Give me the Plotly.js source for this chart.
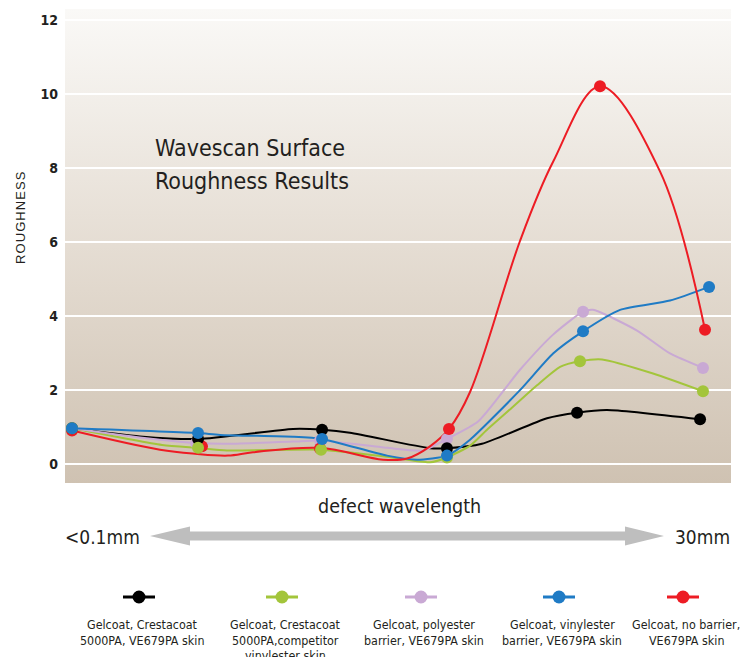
<!DOCTYPE html>
<html>
<head>
<meta charset="utf-8">
<script src="https://cdn.plot.ly/plotly-3.0.1.min.js"></script>
<style>
  html, body { margin: 0; padding: 0; background: #ffffff; }
  #chart { width: 745px; height: 657px; }
</style>
</head>
<body>
<div id="chart"></div>
<script>
// ---------------- DATA ----------------
// x is in "category units": 0 = <0.1mm ... 5 = 30mm
const yTickVals = [0, 2, 4, 6, 8, 10, 12];
const yTickText = ['0', '2', '4', '6', '8', '10', '12'];

const seriesNames = [
  'Gelcoat, Crestacoat\n5000PA, VE679PA skin',
  'Gelcoat, Crestacoat\n5000PA,competitor\nvinylester skin',
  'Gelcoat, polyester\nbarrier, VE679PA skin',
  'Gelcoat, vinylester\nbarrier, VE679PA skin',
  'Gelcoat, no barrier,\nVE679PA skin'
];
const seriesColors = ['#000000', '#a3c53b', '#c9a9d4', '#1f7bc5', '#ed1c24'];

// measured points (markers)
const blackMainX = [0, 0.994, 1.972, 2.957, 3.983, 4.953];
const blackMainY = [0.97, 0.68, 0.93, 0.43, 1.39, 1.21];
const greenMainX = [0, 0.994, 1.964, 2.957, 4.006, 4.976];
const greenMainY = [0.97, 0.44, 0.39, 0.18, 2.78, 1.97];
const lilacMainX = [0, 0.978, 1.956, 2.957, 4.030, 4.976];
const lilacMainY = [0.97, 0.57, 0.64, 0.68, 4.12, 2.60];
const blueMainX  = [0, 0.994, 1.972, 2.957, 4.030, 5.024];
const blueMainY  = [0.97, 0.84, 0.68, 0.23, 3.59, 4.79];
const redMainX   = [0, 1.025, 1.956, 2.973, 4.164, 4.992];
const redMainY   = [0.91, 0.48, 0.42, 0.95, 10.21, 3.63];

// traced curve points (lines)
const blackLineX = [0, 0.536, 0.994, 1.743, 1.972, 2.192, 2.823, 2.957, 3.233, 3.746, 3.983, 4.219, 4.953];
const blackLineY = [0.97, 0.75, 0.68, 0.95, 0.93, 0.85, 0.43, 0.43, 0.55, 1.24, 1.39, 1.46, 1.21];
const greenLineX = [0, 0.710, 0.994, 1.222, 1.964, 2.484, 2.823, 2.957, 3.139, 3.273, 3.478, 3.667, 3.849, 4.006, 4.180, 4.582, 4.976];
const greenLineY = [0.97, 0.52, 0.44, 0.37, 0.39, 0.20, 0.05, 0.18, 0.50, 0.93, 1.55, 2.13, 2.63, 2.78, 2.83, 2.45, 1.97];
const lilacLineX = [0, 0.536, 0.978, 1.214, 1.743, 1.956, 2.484, 2.768, 2.957, 3.202, 3.533, 3.794, 4.030, 4.109, 4.456, 4.716, 4.976];
const lilacLineY = [0.97, 0.72, 0.57, 0.55, 0.61, 0.64, 0.44, 0.37, 0.68, 1.15, 2.55, 3.50, 4.12, 4.17, 3.61, 2.99, 2.60];
const blueLineX  = [0, 0.994, 1.167, 1.743, 1.972, 2.484, 2.721, 2.957, 3.139, 3.533, 3.794, 4.030, 4.322, 4.716, 5.024];
const blueLineY  = [0.97, 0.84, 0.79, 0.74, 0.68, 0.23, 0.12, 0.23, 0.66, 2.00, 2.99, 3.59, 4.17, 4.42, 4.79];
const redLineX   = [0, 0.694, 0.970, 1.230, 1.427, 1.956, 2.453, 2.642, 2.823, 2.973, 3.139, 3.533, 3.794, 4.164, 4.637, 4.992];
const redLineY   = [0.91, 0.39, 0.28, 0.23, 0.32, 0.44, 0.12, 0.15, 0.48, 0.95, 1.95, 6.03, 8.17, 10.21, 7.91, 3.63];

// ---------------- LAYOUT GEOMETRY ----------------
const W = 745, H = 657;
const M = { l: 65, r: 14, t: 9, b: 174 };
const PW = W - M.l - M.r, PH = H - M.t - M.b;
const px = x => (x - M.l) / PW;           // pixel -> paper x
const py = y => (H - M.b - y) / PH;       // pixel -> paper y

const NARROW = '"Liberation Sans Narrow", "DejaVu Sans Condensed", "Arial Narrow", sans-serif';
const TXT = '#231f20';

const lineSets = [
  [blackLineX, blackLineY], [greenLineX, greenLineY], [lilacLineX, lilacLineY],
  [blueLineX, blueLineY], [redLineX, redLineY]
];
const mainSets = [
  [blackMainX, blackMainY], [greenMainX, greenMainY], [lilacMainX, lilacMainY],
  [blueMainX, blueMainY], [redMainX, redMainY]
];

const traces = [];
lineSets.forEach((s, i) => {
  traces.push({
    x: s[0], y: s[1], type: 'scatter', mode: 'lines',
    line: { color: seriesColors[i], width: 2, shape: 'spline', smoothing: i === 4 ? 1.0 : 0.6 },
    showlegend: false, hoverinfo: 'skip'
  });
});
// marker draw order (blue on top)
[2, 4, 0, 1, 3].forEach(i => {
  traces.push({
    x: mainSets[i][0], y: mainSets[i][1], type: 'scatter', mode: 'markers',
    marker: { color: seriesColors[i], size: 12, line: { width: 0 } },
    name: seriesNames[i], showlegend: false
  });
});

// background gradient image
const bgSvg = "<svg xmlns='http://www.w3.org/2000/svg' width='10' height='100' preserveAspectRatio='none'>" +
  "<defs><linearGradient id='g' x1='0' y1='0' x2='0' y2='1'>" +
  "<stop offset='0' stop-color='#faf9f7'/><stop offset='0.5' stop-color='#e5ddd3'/><stop offset='1' stop-color='#cfc2b2'/>" +
  "</linearGradient></defs><rect width='10' height='100' fill='url(#g)'/></svg>";
const bgSrc = 'data:image/svg+xml;base64,' + btoa(bgSvg);

// annotations
const annotations = [
  { text: 'Wavescan Surface', x: px(153), y: py(148), xref: 'paper', yref: 'paper',
    xanchor: 'left', yanchor: 'middle', showarrow: false, font: { family: NARROW, size: 23, color: TXT } },
  { text: 'Roughness Results', x: px(153), y: py(181), xref: 'paper', yref: 'paper',
    xanchor: 'left', yanchor: 'middle', showarrow: false, font: { family: NARROW, size: 23, color: TXT } },
  { text: 'R\u200AO\u200AU\u200AG\u200AH\u200AN\u200AE\u200AS\u200AS', x: px(20), y: py(218), xref: 'paper', yref: 'paper', textangle: -90,
    xanchor: 'center', yanchor: 'middle', showarrow: false, font: { family: 'Liberation Sans, Arial, sans-serif', size: 13, color: TXT } },
  { text: 'defect wavelength', x: px(399), y: py(506), xref: 'paper', yref: 'paper',
    xanchor: 'center', yanchor: 'middle', showarrow: false, font: { family: NARROW, size: 19.5, color: TXT } },
  { text: '&lt;0.1mm', x: px(63), y: py(537), xref: 'paper', yref: 'paper',
    xanchor: 'left', yanchor: 'middle', showarrow: false, font: { family: NARROW, size: 19, color: TXT } },
  { text: '30mm', x: px(732), y: py(537), xref: 'paper', yref: 'paper',
    xanchor: 'right', yanchor: 'middle', showarrow: false, font: { family: NARROW, size: 19, color: TXT } }
];

const legendCenters = [139, 282, 421, 559, 683];
const legendLineY = [624, 640, 655];
const shapes = [];
seriesNames.forEach((name, i) => {
  const cx = legendCenters[i];
  shapes.push({ type: 'line', xref: 'paper', yref: 'paper', x0: px(cx - 16), x1: px(cx + 16),
    y0: py(597), y1: py(597), line: { color: seriesColors[i], width: 3 } });
  shapes.push({ type: 'circle', xref: 'paper', yref: 'paper', xsizemode: 'pixel', ysizemode: 'pixel',
    xanchor: px(cx), yanchor: py(597), x0: -6.5, x1: 6.5, y0: -6.5, y1: 6.5,
    fillcolor: seriesColors[i], line: { width: 0 } });
  name.split('\n').forEach((ln, k) => {
    annotations.push({ text: ln, x: px(cx + 3), y: py(legendLineY[k]), xref: 'paper', yref: 'paper',
      xanchor: 'center', yanchor: 'middle', showarrow: false,
      font: { family: NARROW, size: 12.4, color: TXT } });
  });
});

// double arrow
const arrowPts = [[150, 536], [190, 526.5], [190, 531.5], [625, 531.5], [625, 526.5], [664, 536],
                  [625, 545.5], [625, 540.5], [190, 540.5], [190, 545.5]];
shapes.push({
  type: 'path', xref: 'paper', yref: 'paper',
  path: 'M ' + arrowPts.map(p => px(p[0]).toFixed(5) + ',' + py(p[1]).toFixed(5)).join(' L ') + ' Z',
  fillcolor: '#bebebe', line: { width: 0 }
});

const layout = {
  width: W, height: H,
  margin: M,
  paper_bgcolor: '#ffffff',
  plot_bgcolor: 'rgba(0,0,0,0)',
  showlegend: false,
  xaxis: { range: [-0.0552, 5.197], showgrid: false, zeroline: false, showticklabels: false,
    showline: false, ticks: '', fixedrange: true },
  yaxis: { range: [-0.51, 12.3], tickvals: yTickVals, ticktext: yTickText,
    showgrid: true, gridcolor: '#ffffff', gridwidth: 2, zeroline: false, showline: false,
    ticks: '', ticklabelstandoff: 6,
    tickfont: { family: NARROW, size: 14, color: TXT, weight: 'bold' }, fixedrange: true },
  images: [{ source: bgSrc, xref: 'paper', yref: 'paper', x: 0, y: 1, sizex: 1, sizey: 1,
    xanchor: 'left', yanchor: 'top', sizing: 'stretch', layer: 'below' }],
  annotations: annotations,
  shapes: shapes
};

Plotly.newPlot('chart', traces, layout, { displayModeBar: false, staticPlot: true });
</script>
</body>
</html>
